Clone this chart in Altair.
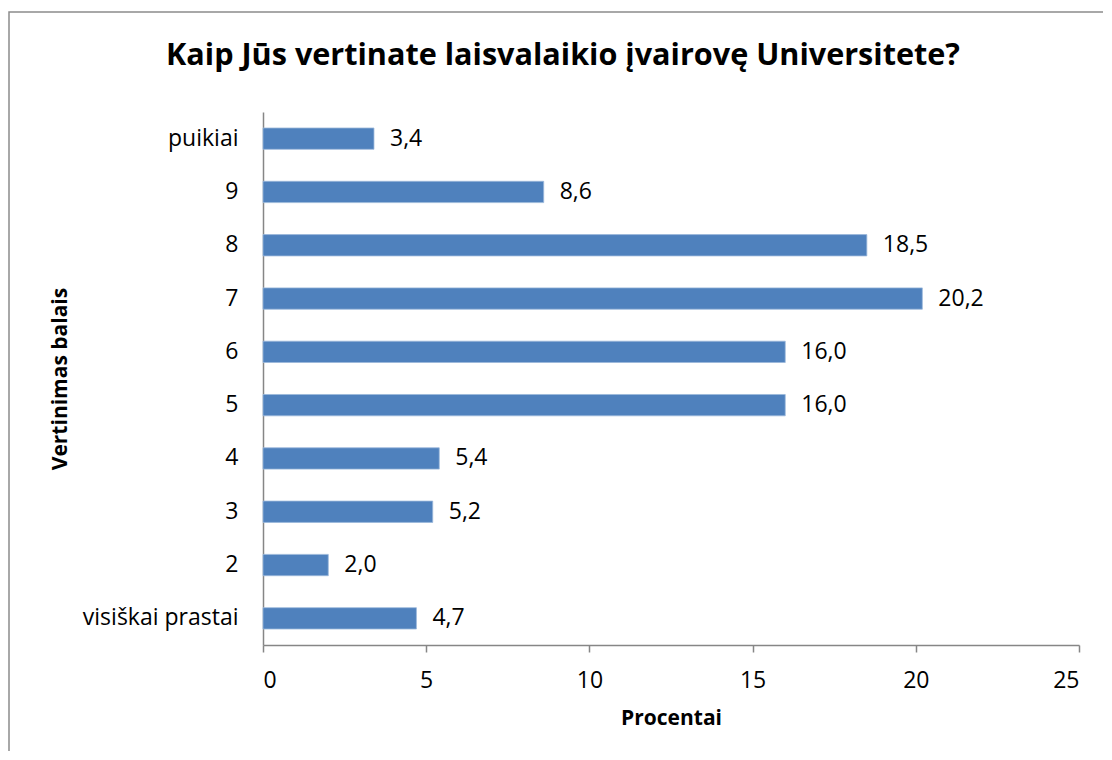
import altair as alt
import pandas as pd

categories = ["puikiai", "9", "8", "7", "6", "5", "4", "3", "2", "visiškai prastai"]
values = [3.4, 8.6, 18.5, 20.2, 16.0, 16.0, 5.4, 5.2, 2.0, 4.7]
x_ticks = [0, 5, 10, 15, 20, 25]

df = pd.DataFrame({"cat": categories, "v": values})

FONT = "Open Sans"
AX = "#868686"
W, H = 816, 533

y_enc = alt.Y("cat:N", sort=categories,
              scale=alt.Scale(paddingInner=0.6, paddingOuter=0.3),
              axis=alt.Axis(title="Vertinimas balais", ticks=False, labelPadding=25,
                            labelFontSize=23, labelFont=FONT, labelColor="#000000",
                            titleFontSize=21, titleFont=FONT, titleFontWeight="bold",
                            titleColor="#000000",
                            titleX=-203, titleY=H / 2, titleAngle=270,
                            titleAlign="center", titleBaseline="middle",
                            domainColor=AX, domainWidth=1.5, labelLimit=300))
x_enc = alt.X("v:Q", scale=alt.Scale(domain=[0, 25], nice=False),
              axis=alt.Axis(title="Procentai", values=x_ticks, grid=False,
                            tickSize=7, tickColor=AX, tickWidth=1.5,
                            domainColor=AX, domainWidth=1.5,
                            labelPadding=17, labelFontSize=23, labelFont=FONT,
                            labelColor="#000000",
                            titleFontSize=21, titleFont=FONT, titleFontWeight="bold",
                            titleColor="#000000",
                            titleX=W / 2, titleY=73, titleAlign="center",
                            titleBaseline="middle"))

bars = alt.Chart(df).mark_bar(color="#4F81BD", stroke="#9BB7DA", strokeWidth=0.8).encode(
    x=x_enc, y=y_enc)

labels = alt.Chart(df).transform_calculate(
    lbl="replace(format(datum.v, '.1f'), '.', ',')"
).mark_text(align="left", baseline="middle", dx=16, fontSize=23, font=FONT,
            color="#000000").encode(
    x=alt.X("v:Q"), y=alt.Y("cat:N", sort=categories), text="lbl:N")

border = alt.Chart(pd.DataFrame({"a": [0]})).mark_rect(
    fill=None, stroke="#8C8C8C", strokeWidth=1.5, clip=False).encode(
    x=alt.value(-254), x2=alt.value(W + 60), y=alt.value(-100), y2=alt.value(H + 200))

chart = alt.layer(border, bars, labels).properties(
    width=W, height=H,
    title=alt.Title("Kaip Jūs vertinate laisvalaikio įvairovę Universitete?",
                    font=FONT, fontSize=30.6, fontWeight="bold", color="#000000",
                    anchor="middle", dx=-108, baseline="alphabetic", offset=0, dy=84),
    autosize=alt.AutoSizeParams(type="none"),
    padding={"left": 255, "top": 104, "right": 24, "bottom": 106},
).configure_view(strokeWidth=0, fill="#FFFFFF")

chart.save("out.html", embed_options={"renderer": "svg", "actions": False})
